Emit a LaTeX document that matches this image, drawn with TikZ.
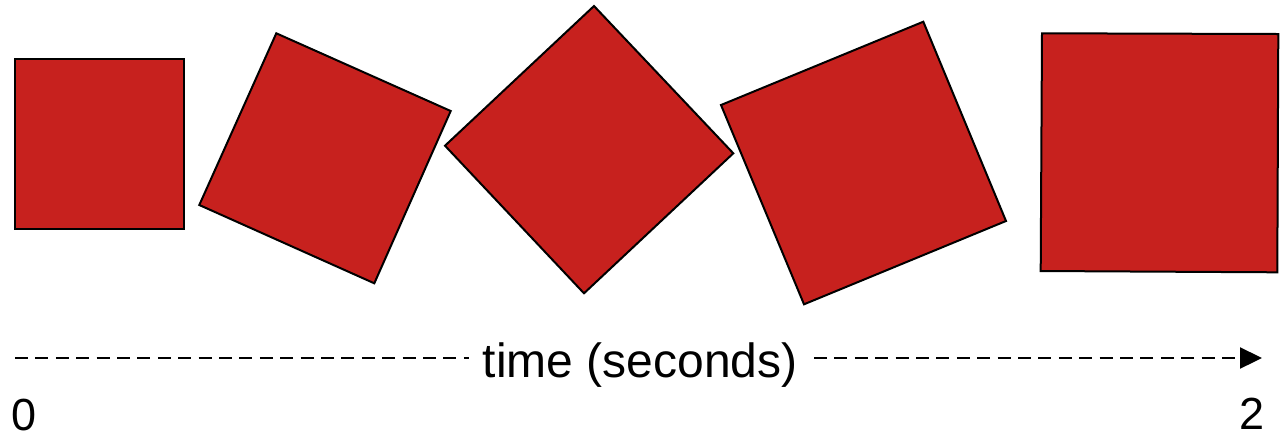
\documentclass[tikz,border=0pt]{standalone}
\usepackage{fontspec}
\setmainfont{Liberation Sans}
\usetikzlibrary{arrows.meta}
\definecolor{boxred}{RGB}{199,33,30}
\begin{document}
\begin{tikzpicture}[x=0.5pt,y=-0.5pt,
  tile/.style={fill=boxred,draw=black,line width=1pt,line join=miter},
  timeline/.style={line width=1.15pt,dash pattern=on 6.5pt off 3.7pt},
  label/.style={inner sep=0pt,font=\fontsize{22.5}{26}\selectfont}]
\useasboundingbox (0,0) rectangle (1286,435);
% the tile, turning as time runs on
\draw[tile] (15,59) -- (184.3,59) -- (184.3,229.3) -- (15,229.3) -- cycle;
\draw[tile] (276.3,33.3) -- (450.7,111) -- (374.3,283.3) -- (199.3,205) -- cycle;
\draw[tile] (594,6) -- (733.3,153.3) -- (584,293.3) -- (445,145.7) -- cycle;
\draw[tile] (721,105) -- (923.3,21.7) -- (1006,221) -- (804,304.3) -- cycle;
\draw[tile] (1042,33.3) -- (1278.3,34) -- (1277.3,272.3) -- (1040.7,271) -- cycle;
% time axis
\coordinate (start) at (15,358);
\coordinate (finish) at (1262,358);
\node[anchor=base west,inner ysep=0pt,inner xsep=0pt,
      font=\fontsize{24}{28}\selectfont] (cap) at (482.5,377) {time (seconds)};
\coordinate (capl) at ([xshift=-7pt]cap.west|-start);
\coordinate (capr) at ([xshift=8pt]cap.east|-start);
\draw[timeline] (start) -- (capl);
\draw[timeline,-{Triangle[length=11pt,width=10.5pt]}] (capr) -- (finish);
\node[label,anchor=base west] (zero) at (11,430) {0};
\node[label,anchor=base east] (two) at (1264.5,429.5) {2};
\end{tikzpicture}
\end{document}
